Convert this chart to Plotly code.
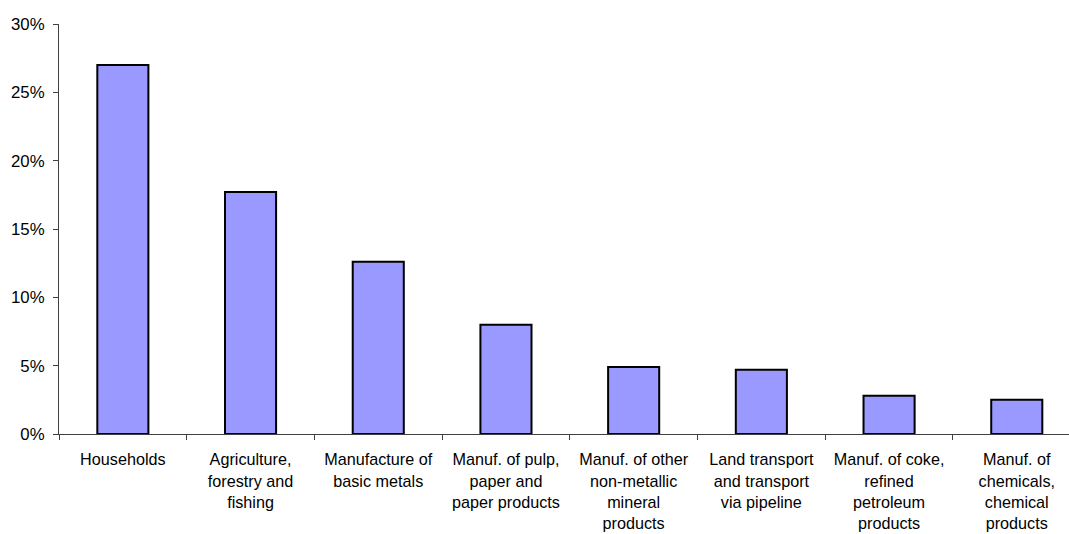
import plotly.graph_objects as go

# Share of total by sector
sectors = [
    "Households",
    "Agriculture,<br>forestry and<br>fishing",
    "Manufacture of<br>basic metals",
    "Manuf. of pulp,<br>paper and<br>paper products",
    "Manuf. of other<br>non-metallic<br>mineral<br>products",
    "Land transport<br>and transport<br>via pipeline",
    "Manuf. of coke,<br>refined<br>petroleum<br>products",
    "Manuf. of<br>chemicals,<br>chemical<br>products",
]
shares = [0.270, 0.177, 0.126, 0.080, 0.049, 0.047, 0.028, 0.025]

y_ticks = [0, 0.05, 0.10, 0.15, 0.20, 0.25, 0.30]
y_tick_labels = ["0%", "5%", "10%", "15%", "20%", "25%", "30%"]

fig = go.Figure(
    go.Bar(
        x=sectors,
        y=shares,
        width=0.40,
        marker=dict(color="#9999FF", line=dict(color="#000000", width=2)),
        hoverinfo="y",
    )
)

font = dict(family="Liberation Sans, Arial, sans-serif", size=16.8, color="#000000")

fig.update_layout(
    width=1069,
    height=534,
    margin=dict(l=59, r=0, t=24, b=100),
    paper_bgcolor="white",
    plot_bgcolor="white",
    showlegend=False,
    font=font,
)

# category axis with tick marks on the boundaries between sectors
fig.update_xaxes(
    type="category",
    tickson="boundaries",
    range=[-0.5, 7.409],
    showline=True,
    linecolor="#404040",
    linewidth=1,
    ticks="outside",
    ticklen=5,
    tickcolor="#404040",
    ticklabelstandoff=11,
    tickfont=dict(size=16.2),
    showgrid=False,
    zeroline=False,
    tickangle=0,
    fixedrange=True,
)

fig.update_yaxes(
    range=[0, 0.30],
    tickvals=y_ticks,
    ticktext=y_tick_labels,
    showline=True,
    linecolor="#404040",
    linewidth=1,
    ticks="outside",
    ticklen=5,
    tickcolor="#404040",
    ticklabelstandoff=5,
    showgrid=False,
    zeroline=False,
    fixedrange=True,
)

fig.write_html("out.html")
